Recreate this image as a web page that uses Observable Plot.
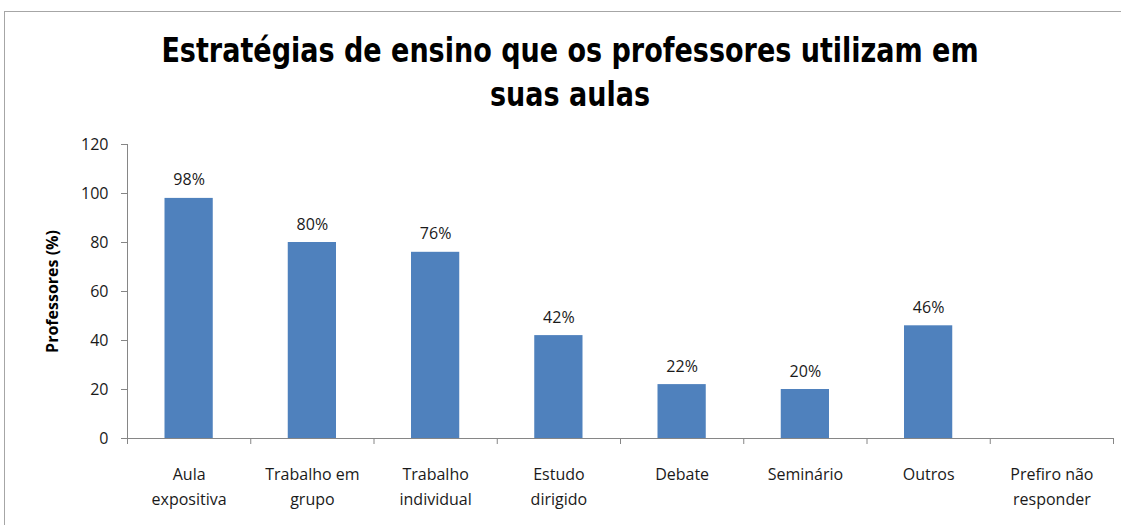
<!DOCTYPE html>
<html><head><meta charset="utf-8">
<script src="https://cdn.jsdelivr.net/npm/d3@7"></script>
<script src="https://cdn.jsdelivr.net/npm/@observablehq/plot@0.6"></script>
<style>
body{margin:0;background:#fff;}
#wrap{position:relative;width:1121px;height:525px;overflow:hidden;background:#fff;}
#frame{position:absolute;left:4px;top:11px;width:1200px;height:600px;border:1.5px solid #a6a6a6;box-sizing:border-box;}
#title{position:absolute;left:0;top:29px;width:1140px;text-align:center;font-family:"Liberation Sans Narrow","DejaVu Sans Condensed",sans-serif;font-weight:bold;font-size:33px;line-height:44px;color:#000;transform:scaleX(0.91);transform-origin:570px 0;}
#chart{position:absolute;left:0;top:120px;}
</style>
</head><body>
<div id="wrap">
<div id="frame"></div>
<div id="title">Estratégias de ensino que os professores utilizam em<br>suas aulas</div>
<div id="chart"></div>
</div>
<script>
const categories = ["Aula\nexpositiva","Trabalho em\ngrupo","Trabalho\nindividual","Estudo\ndirigido","Debate","Seminário","Outros","Prefiro não\nresponder"];
const values = [98, 80, 76, 42, 22, 20, 46, 0];
const valueLabels = ["98%","80%","76%","42%","22%","20%","46%",""];
const yTicks = [0, 20, 40, 60, 80, 100, 120];
const yLabel = "Professores (%)";

const data = categories.map((c, i) => ({i, c, v: values[i], l: valueLabels[i]}));
const boundaries = d3.range(categories.length + 1);
const axisColor = "#868686";

const chart = Plot.plot({
  width: 1121,
  height: 405,
  marginTop: 24,
  marginBottom: 87,
  marginLeft: 127,
  marginRight: 8,
  x: {domain: [0, categories.length], axis: null},
  y: {domain: [0, 120], axis: null},
  style: {fontFamily: "'Open Sans', sans-serif", fontSize: "16px", color: "#1a1a1a", background: "transparent"},
  marks: [
    Plot.rectY(data, {x1: "i", x2: d => d.i + 1, y: "v", insetLeft: 37.5, insetRight: 37.5, fill: "#4F81BD"}),
    Plot.ruleX([0], {stroke: axisColor}),
    Plot.ruleY([0], {stroke: axisColor}),
    Plot.axisY(yTicks, {tickSize: 6, tickPadding: 13, stroke: axisColor, fill: "#1a1a1a", fontSize: 16, label: null}),
    Plot.axisX(boundaries, {tickSize: 6, tickFormat: () => "", stroke: axisColor, label: null}),
    Plot.text(data, {x: d => d.i + 0.5, frameAnchor: "bottom", text: "c", lineAnchor: "top", dy: 24, lineHeight: 1.56, fontSize: 16, fill: "#1a1a1a"}),
    Plot.text(data, {x: d => d.i + 0.5, y: "v", text: "l", lineAnchor: "bottom", dy: -13, fontSize: 16, fill: "#1a1a1a"}),
    Plot.text([yLabel], {frameAnchor: "left", textAnchor: "middle", rotate: -90, dx: -75, fontWeight: "bold", fontSize: 16, fill: "#000"})
  ]
});
document.getElementById("chart").appendChild(chart);
</script>
</body></html>
